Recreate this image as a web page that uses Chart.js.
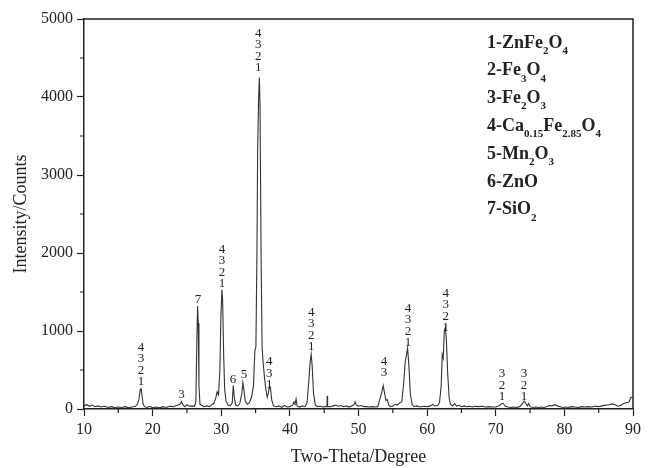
<!DOCTYPE html>
<html>
<head>
<meta charset="utf-8">
<script src="https://cdn.jsdelivr.net/npm/chart.js@4"></script>
<style>
html, body { margin: 0; padding: 0; background: #fff; }
#wrap { width: 651px; height: 468px; }
</style>
</head>
<body>
<div id="wrap"><canvas id="xrd"></canvas></div>
<script>
// diffraction pattern
const twoTheta = [
  10.0, 10.4, 10.8, 11.2, 11.6, 12.0, 12.5, 13.0, 13.5, 14.0, 14.5, 15.0, 15.5, 16.0, 16.5, 17.0, 17.5, 17.8,
  18.0, 18.2, 18.3, 18.45, 18.6, 18.8, 19.2, 19.6, 20.0, 20.5, 21.0, 21.5, 22.0, 22.5, 23.0, 23.5,
  24.0, 24.2, 24.4, 24.7, 25.0, 25.3, 25.7, 26.1, 26.3, 26.45, 26.55, 26.65, 26.75, 26.9, 27.2, 27.5,
  27.9, 28.3, 28.6, 28.9, 29.2, 29.4, 29.6, 29.8, 29.95, 30.1, 30.2, 30.35, 30.5, 30.7, 31.0, 31.3,
  31.6, 31.75, 31.9, 32.1, 32.4, 32.7, 33.0, 33.15, 33.3, 33.5, 33.8, 34.1, 34.4, 34.7, 34.9, 35.05,
  35.2, 35.3, 35.45, 35.55, 35.65, 35.8, 35.95, 36.1, 36.3, 36.5, 36.7, 36.85, 37.05, 37.2, 37.35, 37.6,
  38.0, 38.4, 38.8, 39.2, 39.6, 40.0, 40.4, 40.6, 40.75, 40.9, 41.05, 41.4, 41.8, 42.2, 42.5, 42.75,
  42.95, 43.1, 43.25, 43.45, 43.7, 44.0, 44.4, 44.8, 45.2, 45.4, 45.45, 45.5, 45.9, 46.3, 46.7, 47.0,
  47.4, 47.8, 48.2, 48.6, 49.0, 49.3, 49.5, 49.7, 50.0, 50.4, 50.8, 51.2, 51.6, 52.0, 52.5, 52.8,
  53.1, 53.4, 53.6, 53.8, 54.0, 54.2, 54.4, 54.7, 55.0, 55.4, 55.7, 56.0, 56.3, 56.6, 56.8, 57.0,
  57.15, 57.35, 57.55, 57.8, 58.1, 58.5, 59.0, 59.5, 60.0, 60.5, 60.8, 61.1, 61.5, 61.8, 62.05, 62.2,
  62.35, 62.5, 62.65, 62.8, 63.0, 63.2, 63.4, 63.7, 64.0, 64.3, 64.6, 65.0, 65.4, 65.8, 66.2, 66.6,
  67.0, 67.5, 68.0, 68.5, 69.0, 69.5, 70.0, 70.5, 70.9, 71.1, 71.4, 71.8, 72.2, 72.6, 73.0, 73.5,
  73.8, 74.15, 74.4, 74.6, 74.8, 75.0, 75.4, 75.8, 76.2, 76.6, 77.0, 77.4, 77.8, 78.2, 78.6, 79.0,
  79.4, 79.8, 80.2, 80.6, 81.0, 81.5, 82.0, 82.5, 83.0, 83.5, 84.0, 84.5, 85.0, 85.5, 86.0, 86.5,
  87.0, 87.4, 87.8, 88.2, 88.6, 89.0, 89.4, 89.7, 90.0
];
const counts = [
  40, 55, 35, 50, 30, 40, 25, 35, 20, 30, 15, 25, 20, 30, 15, 25, 35, 60,
  120, 250, 270, 180, 70, 30, 20, 35, 15, 25, 15, 30, 20, 35, 30, 45,
  60, 95, 55, 30, 55, 35, 40, 35, 90, 900, 1320, 1100, 300, 60, 45, 30,
  40, 30, 55, 70, 140, 220, 180, 500, 1200, 1530, 1400, 700, 250, 100, 50, 40,
  80, 300, 150, 50, 40, 70, 200, 340, 250, 100, 60, 80, 150, 300, 750, 800,
  2000, 3300, 4000, 4250, 3900, 2000, 800, 600, 400, 250, 150, 200, 300, 250, 120, 40,
  30, 40, 20, 45, 25, 30, 50, 90, 60, 130, 40, 25, 40, 30, 80, 350,
  600, 700, 550, 200, 50, 30, 35, 25, 30, 30, 170, 30, 30, 40, 50, 35,
  45, 30, 40, 25, 40, 50, 90, 50, 35, 45, 30, 30, 25, 30, 25, 30,
  120, 220, 300, 200, 110, 120, 50, 30, 40, 60, 50, 80, 90, 350, 600, 700,
  780, 550, 200, 60, 30, 40, 25, 35, 30, 40, 60, 40, 45, 80, 300, 700,
  650, 1000, 1050, 900, 450, 150, 60, 40, 70, 35, 50, 30, 40, 30, 35, 25,
  35, 30, 35, 25, 30, 25, 25, 40, 70, 70, 35, 25, 20, 25, 20, 30,
  60, 100, 70, 40, 70, 30, 20, 25, 20, 25, 20, 30, 45, 40, 55, 40,
  30, 20, 25, 20, 30, 25, 20, 30, 25, 30, 25, 35, 30, 40, 50, 55,
  65, 55, 35, 45, 70, 80, 90, 150, 140
];

// phase numbers above the peaks (bottom digit sits at labelY)
const labelX = [18.3, 24.2, 26.6, 30.1, 31.7, 33.3, 35.4, 37.0, 43.1, 53.7, 57.2, 62.7, 70.9, 74.1];
const labelY = [346, 180, 1397, 1603, 372, 436, 4372, 308, 795, 462, 846, 1038, 154, 154];
const labelText = ['4321', '3', '7', '4321', '6', '5', '4321', '431', '4321', '43', '4321', '4321', '321', '321'];

// odd entries are subscripts
const phases = [
  ['1-ZnFe', '2', 'O', '4'],
  ['2-Fe', '3', 'O', '4'],
  ['3-Fe', '2', 'O', '3'],
  ['4-Ca', '0.15', 'Fe', '2.85', 'O', '4'],
  ['5-Mn', '2', 'O', '3'],
  ['6-ZnO'],
  ['7-SiO', '2']
];

const serif = '"Liberation Serif", "Times New Roman", serif';
const ink = '#222';

const points = twoTheta.map((t, i) => ({ x: t, y: counts[i] }));

const decorations = {
  id: 'decorations',
  afterDraw(chart) {
    const c = chart.ctx;
    const area = chart.chartArea;
    const xs = chart.scales.x, ys = chart.scales.y;
    c.save();
    // frame top + right
    c.strokeStyle = ink;
    c.lineWidth = 1.5;
    c.beginPath();
    c.moveTo(area.left, area.top);
    c.lineTo(area.right, area.top);
    c.lineTo(area.right, area.bottom);
    c.stroke();
    // minor ticks
    c.lineWidth = 1.2;
    c.beginPath();
    for (let v = 15; v < 90; v += 10) {
      const px = xs.getPixelForValue(v);
      c.moveTo(px, area.bottom);
      c.lineTo(px, area.bottom + 4);
    }
    for (let v = 500; v < 5000; v += 1000) {
      const py = ys.getPixelForValue(v);
      c.moveTo(area.left, py);
      c.lineTo(area.left - 4, py);
    }
    c.stroke();
    // peak labels
    c.fillStyle = ink;
    c.font = '13px ' + serif;
    c.textAlign = 'center';
    c.textBaseline = 'middle';
    labelText.forEach((txt, i) => {
      const px = xs.getPixelForValue(labelX[i]);
      const py = ys.getPixelForValue(labelY[i]);
      const digits = txt.split('');
      digits.forEach((d, k) => {
        c.fillText(d, px, py - (digits.length - 1 - k) * 11.5);
      });
    });
    // phase key
    c.textAlign = 'left';
    c.textBaseline = 'middle';
    phases.forEach((parts, i) => {
      let x = 487;
      const y = 43 + i * 27.8;
      parts.forEach((p, k) => {
        if (k % 2 === 0) {
          c.font = 'bold 18px ' + serif;
          c.fillText(p, x, y);
        } else {
          c.font = 'bold 11px ' + serif;
          c.fillText(p, x, y + 8);
        }
        x += c.measureText(p).width;
      });
    });
    c.restore();
  }
};

new Chart(document.getElementById('xrd'), {
  type: 'scatter',
  data: {
    datasets: [{
      data: points,
      showLine: true,
      borderColor: '#333',
      borderWidth: 1.1,
      pointRadius: 0,
      tension: 0
    }]
  },
  options: {
    responsive: true,
    maintainAspectRatio: false,
    animation: false,
    layout: { padding: { top: 19, right: 18, left: 0, bottom: 0 } },
    plugins: { legend: { display: false }, tooltip: { enabled: false } },
    scales: {
      x: {
        type: 'linear',
        min: 10,
        max: 90,
        ticks: { stepSize: 10, color: ink, font: { family: serif, size: 16 }, padding: 4, callback: v => String(v) },
        grid: { drawOnChartArea: false, tickLength: 7, tickColor: ink, tickWidth: 1.2 },
        border: { color: ink, width: 1.5 },
        title: { display: true, text: 'Two-Theta/Degree', color: ink, font: { family: serif, size: 18 }, padding: { top: 0, bottom: 0 } },
        afterFit(scale) { scale.height = 59; }
      },
      y: {
        min: 0,
        max: 5000,
        ticks: { stepSize: 1000, color: ink, font: { family: serif, size: 16 }, padding: 4, callback: v => String(v) },
        grid: { drawOnChartArea: false, tickLength: 7, tickColor: ink, tickWidth: 1.2 },
        border: { color: ink, width: 1.5 },
        title: { display: true, text: 'Intensity/Counts', color: ink, font: { family: serif, size: 18 }, padding: { top: 10, bottom: 0 } },
        afterFit(scale) { scale.width = 84; }
      }
    }
  },
  plugins: [decorations]
});
</script>
</body>
</html>
